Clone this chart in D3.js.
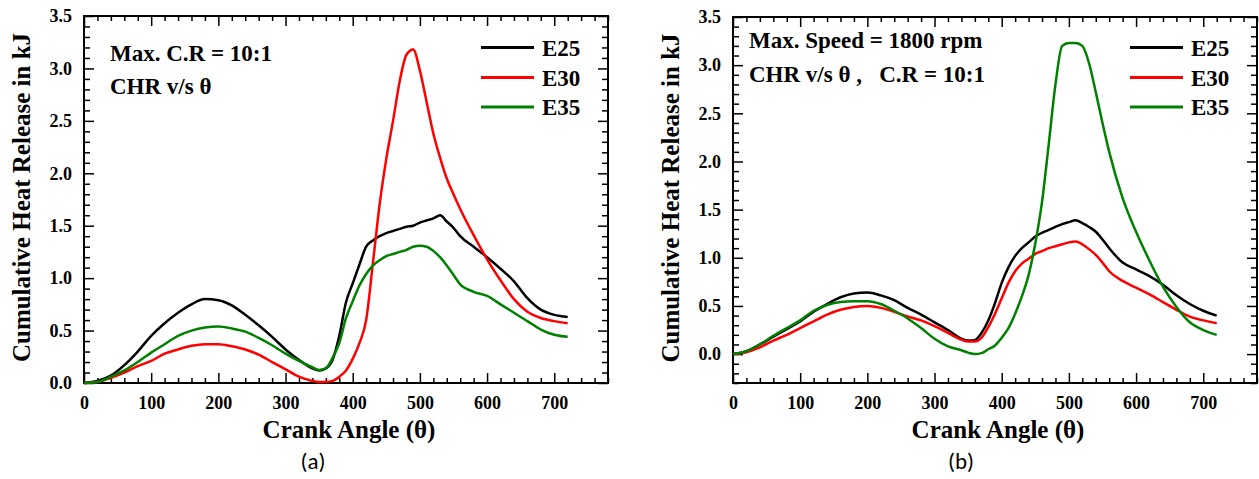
<!DOCTYPE html>
<html>
<head>
<meta charset="utf-8">
<script src="https://cdn.jsdelivr.net/npm/d3@7"></script>
<style>
  html, body { margin: 0; padding: 0; background: #ffffff; }
  svg { display: block; }
  .serif { font-family: "Liberation Serif", "Times New Roman", serif; font-weight: bold; }
</style>
</head>
<body>
<svg id="chart" width="1259" height="479"></svg>
<script>
// ---------------- DATA ----------------
const theta = [0,20,40,60,80,100,120,140,160,180,200,220,240,260,280,300,320,340,350,360,370,380,390,400,410,420,430,440,450,460,470,480,490,500,510,520,530,540,550,560,580,600,620,640,660,680,700,720];

// Panel (a): Max. C.R = 10:1
const aE25 = [0,0.02,0.07,0.17,0.30,0.45,0.57,0.67,0.75,0.80,0.79,0.74,0.65,0.55,0.44,0.32,0.22,0.14,0.12,0.14,0.22,0.45,0.77,0.95,1.13,1.30,1.36,1.40,1.43,1.45,1.47,1.49,1.50,1.53,1.55,1.57,1.60,1.54,1.48,1.40,1.30,1.20,1.09,0.97,0.81,0.70,0.65,0.63];
const aE30 = [0,0.01,0.05,0.10,0.16,0.21,0.28,0.32,0.355,0.37,0.37,0.35,0.32,0.27,0.20,0.13,0.06,0.02,0.01,0.01,0.02,0.06,0.12,0.23,0.38,0.60,1.14,1.70,2.14,2.50,2.88,3.13,3.18,2.98,2.68,2.38,2.15,1.95,1.80,1.66,1.41,1.18,0.98,0.80,0.68,0.62,0.59,0.57];
const aE35 = [0,0.01,0.06,0.12,0.20,0.29,0.37,0.45,0.50,0.53,0.54,0.52,0.49,0.43,0.36,0.28,0.21,0.15,0.125,0.14,0.24,0.38,0.62,0.78,0.93,1.04,1.12,1.17,1.21,1.23,1.25,1.27,1.30,1.31,1.30,1.26,1.20,1.12,1.03,0.94,0.87,0.83,0.75,0.67,0.59,0.51,0.46,0.44];

// Panel (b): Max. Speed = 1800 rpm, C.R = 10:1
const bE25 = [0,0.03,0.10,0.18,0.26,0.34,0.44,0.52,0.59,0.63,0.64,0.61,0.56,0.48,0.41,0.33,0.25,0.16,0.14,0.145,0.22,0.35,0.53,0.74,0.90,1.02,1.10,1.16,1.22,1.26,1.29,1.32,1.35,1.37,1.39,1.36,1.32,1.27,1.19,1.10,0.95,0.88,0.81,0.72,0.61,0.52,0.45,0.40];
const bE30 = [0,0.02,0.07,0.14,0.20,0.27,0.34,0.41,0.46,0.49,0.50,0.48,0.44,0.39,0.35,0.29,0.22,0.15,0.13,0.13,0.17,0.28,0.42,0.58,0.74,0.86,0.94,0.99,1.04,1.07,1.10,1.12,1.14,1.16,1.17,1.14,1.09,1.03,0.95,0.86,0.76,0.69,0.62,0.54,0.46,0.39,0.35,0.32];
const bE35 = [0,0.03,0.10,0.19,0.27,0.35,0.45,0.51,0.54,0.55,0.55,0.52,0.45,0.37,0.27,0.16,0.08,0.04,0.015,0.0,0.01,0.05,0.09,0.17,0.27,0.42,0.60,0.82,1.15,1.58,2.18,2.80,3.20,3.23,3.23,3.20,3.02,2.72,2.40,2.10,1.62,1.27,0.97,0.70,0.49,0.33,0.25,0.20];

const seriesNames = ["E25", "E30", "E35"];
const seriesColors = ["#000000", "#ff0000", "#008000"];

const xTickValues = [0,100,200,300,400,500,600,700];
const yTickValues = [0,0.5,1.0,1.5,2.0,2.5,3.0,3.5];
const xTitle = "Crank Angle (\u03b8)";
const yTitle = "Cumulative Heat Release in kJ";
const annotA = ["Max. C.R = 10:1", "CHR v/s \u03b8"];
const annotB = ["Max. Speed = 1800 rpm", "CHR v/s \u03b8 ,   C.R = 10:1"];
const panelLabels = ["(a)", "(b)"];

// ---------------- DRAW ----------------
const svg = d3.select("#chart");

function drawPanel(cfg) {
  const { left, top, right, bottom, yDomain, data, annot, legendX, annotX, annotY, label, labelX } = cfg;
  const x = d3.scaleLinear().domain([0, 780]).range([left, right]);
  const y = d3.scaleLinear().domain(yDomain).range([bottom, top]);
  const g = svg.append("g");

  const xMinor = d3.range(0, 781, 20).filter(v => v % 100 !== 0);
  const yMinor = d3.range(Math.round(yDomain[0]*10), Math.round(yDomain[1]*10)+1)
                   .map(v => v/10).filter(v => Math.abs(v*2 - Math.round(v*2)) > 1e-6);

  // bottom axis (major with labels)
  g.append("g").attr("transform", `translate(0,${bottom})`)
    .call(d3.axisBottom(x).tickValues(xTickValues).tickSize(-10).tickPadding(13).tickFormat(d3.format("d")));
  g.append("g").attr("transform", `translate(0,${bottom})`)
    .call(d3.axisBottom(x).tickValues(xMinor).tickSize(-5).tickFormat(""));
  // top axis
  g.append("g").attr("transform", `translate(0,${top})`)
    .call(d3.axisTop(x).tickValues(xTickValues).tickSize(-10).tickFormat(""));
  g.append("g").attr("transform", `translate(0,${top})`)
    .call(d3.axisTop(x).tickValues(xMinor).tickSize(-5).tickFormat(""));
  // left axis
  g.append("g").attr("transform", `translate(${left},0)`)
    .call(d3.axisLeft(y).tickValues(yTickValues).tickSize(-10).tickPadding(12).tickFormat(d3.format(".1f")));
  g.append("g").attr("transform", `translate(${left},0)`)
    .call(d3.axisLeft(y).tickValues(yMinor).tickSize(-6).tickFormat(""));
  // right axis
  g.append("g").attr("transform", `translate(${right},0)`)
    .call(d3.axisRight(y).tickValues(yTickValues).tickSize(-10).tickFormat(""));
  g.append("g").attr("transform", `translate(${right},0)`)
    .call(d3.axisRight(y).tickValues(yMinor).tickSize(-6).tickFormat(""));

  g.selectAll(".domain").remove();
  g.selectAll(".tick line").attr("stroke", "#000").attr("stroke-width", 1.5);
  g.selectAll(".tick text").attr("font-size", 18).attr("fill", "#000")
    .attr("font-family", "Liberation Serif, Times New Roman, serif").attr("font-weight", "bold");

  // frame
  g.append("rect").attr("x", left).attr("y", top).attr("width", right - left).attr("height", bottom - top)
    .attr("fill", "none").attr("stroke", "#000").attr("stroke-width", 2);

  // lines
  const line = d3.line().x((d, i) => x(theta[i])).y(d => y(d)).curve(d3.curveMonotoneX);
  data.forEach((arr, k) => {
    g.append("path").datum(arr).attr("d", line).attr("fill", "none")
      .attr("stroke", seriesColors[k]).attr("stroke-width", 2.5).attr("stroke-linejoin", "round");
  });

  // axis titles
  g.append("text").attr("class", "serif").attr("x", (left + right) / 2 + 3).attr("y", bottom + 55)
    .attr("text-anchor", "middle").attr("font-size", 25).text(xTitle);
  g.append("text").attr("class", "serif")
    .attr("transform", `translate(${left - 54},${(top + bottom) / 2 - 2}) rotate(-90)`)
    .attr("text-anchor", "middle").attr("font-size", 25).text(yTitle);

  // annotations
  annot.forEach((t, i) => {
    g.append("text").attr("class", "serif").attr("x", annotX).attr("y", annotY[i])
      .attr("font-size", 23).attr("xml:space", "preserve").style("white-space", "pre").text(t);
  });

  // legend
  const legY = [47.5, 77.5, 107];
  seriesNames.forEach((n, k) => {
    g.append("line").attr("x1", legendX).attr("x2", legendX + 53).attr("y1", legY[k]).attr("y2", legY[k])
      .attr("stroke", seriesColors[k]).attr("stroke-width", 3);
    g.append("text").attr("class", "serif").attr("x", legendX + 61).attr("y", legY[k] + 8)
      .attr("font-size", 23).text(n);
  });

  // panel label
  g.append("text").attr("x", labelX).attr("y", 469).attr("text-anchor", "middle")
    .attr("font-family", "Carlito, 'Open Sans', 'Noto Sans', sans-serif").attr("font-size", 23).text(label);
}

drawPanel({ left: 84, top: 16, right: 608, bottom: 383, yDomain: [0, 3.5],
  data: [aE25, aE30, aE35], annot: annotA, annotX: 110, annotY: [61, 94],
  legendX: 481, label: panelLabels[0], labelX: 313 });

drawPanel({ left: 733, top: 17, right: 1257, bottom: 383, yDomain: [-0.3, 3.5],
  data: [bE25, bE30, bE35], annot: annotB, annotX: 749, annotY: [48, 82],
  legendX: 1130, label: panelLabels[1], labelX: 961 });
</script>
</body>
</html>
